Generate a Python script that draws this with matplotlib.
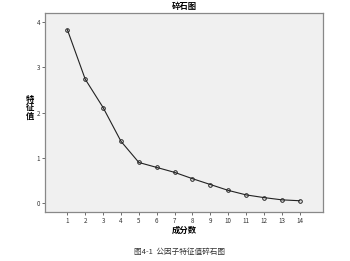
import matplotlib
matplotlib.use('Agg')
from matplotlib import pyplot as plt

plt.rcParams['font.family'] = ['Noto Sans CJK SC', 'DejaVu Sans']

components = [1, 2, 3, 4, 5, 6, 7, 8, 9, 10, 11, 12, 13, 14]
eigenvalues = [3.84, 2.74, 2.11, 1.36, 0.89, 0.78, 0.67, 0.53, 0.40, 0.27, 0.17, 0.11, 0.06, 0.04]
yticks = [0, 1, 2, 3, 4]

fig = plt.figure(figsize=(3.5, 2.61), dpi=100)
ax = fig.add_axes([45/350, 1 - 212/261, (323-45)/350, (212-13)/261])
ax.set_facecolor('#f0f0f0')
ax.plot(components, eigenvalues, color='#222222', lw=0.8,
        marker='o', ms=2.6, mfc='none', mec='#222222', mew=0.7)

ax.set_xlim(-0.25, 15.3)
ax.set_ylim(-0.21, 4.21)
ax.set_xticks(components)
ax.set_yticks(yticks)
ax.tick_params(labelsize=4.5, length=2, width=0.5, colors='#333333', pad=1.5)
for s in ax.spines.values():
    s.set_color('#888888')
    s.set_linewidth(0.9)

fig.text(0.5 + 9/350, 1 - 7/261, '碎石图', ha='center', va='center', fontsize=6, fontweight='bold')
fig.text(184/350, 1 - 230/261, '成分数', ha='center', va='center', fontsize=6, fontweight='bold')
fig.text(30/350, 1 - 108/261, '特\n征\n值', ha='center', va='center', fontsize=6,
         fontweight='bold', linespacing=0.95)
fig.text(180/350, 1 - 252/261, '图4-1  公因子特征值碎石图', ha='center', va='center',
         fontsize=5.5, color='#333333')

fig.savefig('out.png', dpi=100, facecolor='white')
